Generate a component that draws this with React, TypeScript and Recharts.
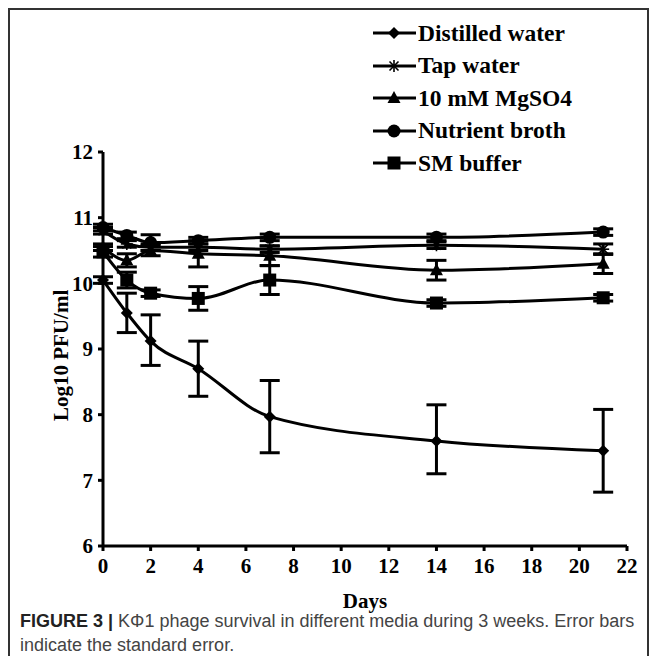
import React from "react";
import { LineChart, Line, XAxis, YAxis, ErrorBar } from "recharts";

const days = [0, 1, 2, 4, 7, 14, 21];
const xTicks = [0, 2, 4, 6, 8, 10, 12, 14, 16, 18, 20, 22];
const yTicks = [6, 7, 8, 9, 10, 11, 12];

const distilled = [10.05, 9.55, 9.12, 8.7, 7.97, 7.6, 7.45];
const distilledErrLow = [0.05, 0.3, 0.37, 0.42, 0.55, 0.5, 0.63];
const distilledErrHigh = [0.05, 0.3, 0.4, 0.42, 0.55, 0.55, 0.63];

const tap = [10.8, 10.6, 10.55, 10.55, 10.52, 10.58, 10.52];
const tapErr = [0.05, 0.05, 0.05, 0.05, 0.05, 0.05, 0.08];

const mgso4 = [10.55, 10.35, 10.5, 10.45, 10.42, 10.2, 10.3];
const mgso4Err = [0.05, 0.1, 0.08, 0.2, 0.15, 0.15, 0.15];

const broth = [10.85, 10.73, 10.62, 10.65, 10.7, 10.7, 10.78];
const brothErr = [0.05, 0.05, 0.12, 0.05, 0.05, 0.05, 0.05];

const sm = [10.48, 10.05, 9.85, 9.77, 10.05, 9.7, 9.78];
const smErr = [0.08, 0.12, 0.05, 0.18, 0.22, 0.05, 0.05];

const seriesNames = ["Distilled water", "Tap water", "10 mM MgSO4", "Nutrient broth", "SM buffer"];

const data = days.map((d, i) => ({
  day: d,
  distilled: distilled[i],
  distilledErr: [distilledErrLow[i], distilledErrHigh[i]],
  tap: tap[i],
  tapErr: tapErr[i],
  mgso4: mgso4[i],
  mgso4Err: mgso4Err[i],
  broth: broth[i],
  brothErr: brothErr[i],
  sm: sm[i],
  smErr: smErr[i],
}));

type Shape = "diamond" | "star" | "triangle" | "circle" | "square";

function Marker({ cx, cy, shape }: { cx: number; cy: number; shape: Shape }) {
  if (cx == null || cy == null) return null;
  switch (shape) {
    case "diamond":
      return <polygon points={`${cx},${cy - 6} ${cx + 6},${cy} ${cx},${cy + 6} ${cx - 6},${cy}`} fill="#000" />;
    case "star":
      return (
        <g stroke="#000" strokeWidth={1.6}>
          <line x1={cx - 6} y1={cy} x2={cx + 6} y2={cy} />
          <line x1={cx} y1={cy - 6} x2={cx} y2={cy + 6} />
          <line x1={cx - 4.5} y1={cy - 4.5} x2={cx + 4.5} y2={cy + 4.5} />
          <line x1={cx - 4.5} y1={cy + 4.5} x2={cx + 4.5} y2={cy - 4.5} />
        </g>
      );
    case "triangle":
      return <polygon points={`${cx},${cy - 7} ${cx + 6.5},${cy + 5} ${cx - 6.5},${cy + 5}`} fill="#000" />;
    case "circle":
      return <circle cx={cx} cy={cy} r={6.5} fill="#000" />;
    case "square":
      return <rect x={cx - 6.5} y={cy - 6.5} width={13} height={13} fill="#000" />;
  }
  return null;
}

const dotFor = (shape: Shape) => (props: any) => (
  <Marker key={`${shape}-${props.index}`} cx={props.cx} cy={props.cy} shape={shape} />
);

const shapes: Shape[] = ["diamond", "star", "triangle", "circle", "square"];

const serif = "'Liberation Serif', 'Times New Roman', serif";

function ChartLegend() {
  return (
    <div
      style={{
        position: "absolute",
        left: 362,
        top: 7,
        fontFamily: serif,
        fontWeight: "bold",
        fontSize: 23.5,
        color: "#000",
      }}
    >
      {seriesNames.map((name, i) => (
        <div key={name} style={{ display: "flex", alignItems: "center", height: 32.5 }}>
          <svg width={45} height={20} style={{ marginRight: 1 }}>
            <line x1={1} y1={10} x2={44} y2={10} stroke="#000" strokeWidth={3} />
            <Marker cx={22} cy={10} shape={shapes[i]} />
          </svg>
          <span>{name}</span>
        </div>
      ))}
    </div>
  );
}

export default function App() {
  return (
    <div
      style={{
        position: "relative",
        width: 641,
        height: 648,
        borderTop: "2px solid #333",
        borderLeft: "2px solid #333",
        borderRight: "2px solid #333",
        boxSizing: "border-box",
        background: "#fff",
      }}
    >
      <div style={{ position: "absolute", left: -2, top: -2 }}>
        <LineChart
          width={641}
          height={620}
          data={data}
          margin={{ top: 144, right: 22, bottom: 32, left: 40 }}
        >
          <XAxis
            dataKey="day"
            type="number"
            domain={[0, 22]}
            ticks={xTicks}
            interval={0}
            height={50}
            axisLine={{ stroke: "#000", strokeWidth: 3 }}
            tickLine={{ stroke: "#000", strokeWidth: 3 }}
            tickSize={5}
            tick={{ fill: "#000", fontFamily: serif, fontWeight: "bold", fontSize: 21, dy: 5 }}
            label={{ value: "Days", position: "insideBottom", offset: -12, fill: "#000", fontFamily: serif, fontWeight: "bold", fontSize: 21 }}
          />
          <YAxis
            type="number"
            domain={[6, 12]}
            ticks={yTicks}
            interval={0}
            width={55}
            axisLine={{ stroke: "#000", strokeWidth: 3 }}
            tickLine={{ stroke: "#000", strokeWidth: 3 }}
            tickSize={5}
            tick={{ fill: "#000", fontFamily: serif, fontWeight: "bold", fontSize: 21, dx: -3 }}
            label={{ value: "Log10 PFU/ml", angle: -90, position: "insideLeft", offset: 13, dy: 72, fill: "#000", fontFamily: serif, fontWeight: "bold", fontSize: 21 }}
          />
          <Line type="monotone" dataKey="distilled" name={seriesNames[0]} stroke="#000" strokeWidth={3} dot={dotFor("diamond")} isAnimationActive={false}>
            <ErrorBar dataKey="distilledErr" width={10} stroke="#000" strokeWidth={3} direction="y" />
          </Line>
          <Line type="monotone" dataKey="tap" name={seriesNames[1]} stroke="#000" strokeWidth={3} dot={dotFor("star")} isAnimationActive={false}>
            <ErrorBar dataKey="tapErr" width={10} stroke="#000" strokeWidth={3} direction="y" />
          </Line>
          <Line type="monotone" dataKey="mgso4" name={seriesNames[2]} stroke="#000" strokeWidth={3} dot={dotFor("triangle")} isAnimationActive={false}>
            <ErrorBar dataKey="mgso4Err" width={10} stroke="#000" strokeWidth={3} direction="y" />
          </Line>
          <Line type="monotone" dataKey="broth" name={seriesNames[3]} stroke="#000" strokeWidth={3} dot={dotFor("circle")} isAnimationActive={false}>
            <ErrorBar dataKey="brothErr" width={10} stroke="#000" strokeWidth={3} direction="y" />
          </Line>
          <Line type="monotone" dataKey="sm" name={seriesNames[4]} stroke="#000" strokeWidth={3} dot={dotFor("square")} isAnimationActive={false}>
            <ErrorBar dataKey="smErr" width={10} stroke="#000" strokeWidth={3} direction="y" />
          </Line>
        </LineChart>
      </div>
      <ChartLegend />
      <div
        style={{
          position: "absolute",
          left: 10,
          top: 599,
          width: 625,
          fontFamily: "'Liberation Sans', Arial, sans-serif",
          fontSize: 18,
          lineHeight: "24px",
          color: "#444",
          whiteSpace: "nowrap",
        }}
      >
        <div>
          <span style={{ fontWeight: "bold", color: "#222" }}>FIGURE 3 |</span>
          <span> KΦ1 phage survival in different media during 3 weeks. Error bars</span>
        </div>
        <div>indicate the standard error.</div>
      </div>
    </div>
  );
}
